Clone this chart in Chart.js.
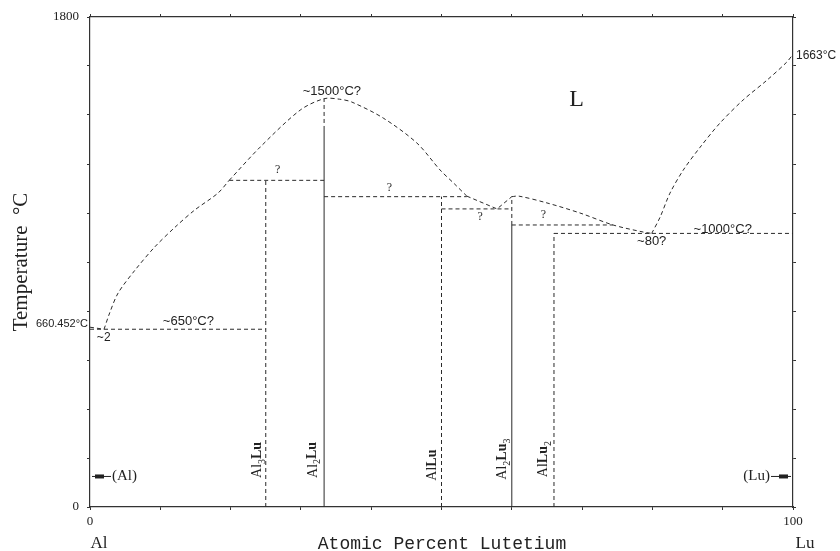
<!DOCTYPE html>
<html>
<head>
<meta charset="utf-8">
<script src="https://cdn.jsdelivr.net/npm/chart.js@4.4.1/dist/chart.umd.min.js"></script>
<style>
html,body{margin:0;padding:0;background:#fff;}
#wrap{width:840px;height:551px;}
</style>
</head>
<body>
<div id="wrap"><canvas id="c" width="840" height="551"></canvas></div>
<script>
// ---- Data (x = at.% Lu, T = °C) ----
const liqAlX = [0, 2];
const liqAlT = [660.452, 653];
const liq1X = [2, 2.8, 4.0, 6.4, 9.2, 12.1, 14.9, 18.2, 19.8];
const liq1T = [653, 713, 786, 870, 955, 1028, 1091, 1153, 1200];
const liq2X = [19.8, 24.2, 29.9, 33.3, 35.5, 37.2, 41.7, 46.5, 49.8, 51.8, 53.6];
const liq2T = [1200, 1322, 1458, 1500, 1498, 1488, 1429, 1337, 1238, 1188, 1142];
const liq3X = [53.6, 57.9, 60];
const liq3T = [1142, 1095, 1140];
const liq4X = [60, 61, 65, 69.7, 74.4, 78.7, 79.9];
const liq4T = [1140, 1142, 1117, 1080, 1036, 1010, 1005];
const liq5X = [79.9, 81.1, 82.5, 84.4, 86.8, 89.6, 92.9, 96.3, 99.1, 100];
const liq5T = [1005, 1065, 1153, 1238, 1322, 1410, 1495, 1568, 1634, 1663];

// invariant (horizontal) lines
const tieStartX = [0, 19.8, 33.3, 50, 60, 66];
const tieEndX   = [25, 33.3, 53.6, 60, 74.4, 100];
const tieT      = [653, 1200, 1140, 1095, 1036, 1005];

// intermediate phases (vertical lines)
const phaseNames = ['Al_3Lu', 'Al_2Lu', 'AlLu', 'Al_2Lu_3', 'AlLu_2'];
const phaseX     = [25, 33.3, 50, 60, 66];
const phaseTopT  = [1200, 1500, 1140, 1140, 1005];
const phaseSolidT = [0, 1385, 0, 1036, 0];

// axis ticks
const xTickLabels = [0, 100];
const yTickLabels = [0, 1800];

// ---- annotation layout (positions in data units) ----
const SERIF = '"Liberation Serif", "DejaVu Serif", serif';
const SANS = '"Liberation Sans", Arial, sans-serif';
const notes = [
  {t:'660.452°C', x:0, T:672, dx:-2, align:'right', size:11, f:SANS},
  {t:'~2', x:1.95, T:621, size:12, f:SANS},
  {t:'~650°C?', x:14.0, T:680, size:13, f:SANS},
  {t:'?', x:26.7, T:1238, size:12, f:SERIF},
  {t:'~1500°C?', x:34.4, T:1528, size:13, f:SANS},
  {t:'L', x:69.2, T:1495, size:24, f:SERIF},
  {t:'?', x:42.6, T:1172, size:12, f:SERIF},
  {t:'?', x:55.5, T:1065, size:12, f:SERIF},
  {t:'?', x:64.5, T:1073, size:12, f:SERIF},
  {t:'~80?', x:79.9, T:977, size:13, f:SANS},
  {t:'~1000°C?', x:90.0, T:1021, size:13, f:SANS},
  {t:'1663°C', x:100, T:1657, dx:3, align:'left', size:12, f:SANS}
];
const phaseLabelX = [23.8, 31.7, 48.7, 58.7, 64.5];
const phaseLabelT = [173, 173, 154, 176, 176];

const LINE = '#2a2a2a';
function seg(xs, ts, dashed, tension) {
  return {
    data: xs.map((x, i) => ({x: x, y: ts[i]})),
    showLine: true, borderColor: LINE, borderWidth: 1,
    borderDash: dashed ? [4, 3] : [], pointRadius: 0, tension: tension || 0,
    fill: false
  };
}

const datasets = [];
datasets.push(seg(liqAlX, liqAlT, true, 0));
datasets.push(seg(liq1X, liq1T, true, 0.3));
datasets.push(seg(liq2X, liq2T, true, 0.3));
datasets.push(seg(liq3X, liq3T, true, 0));
datasets.push(seg(liq4X, liq4T, true, 0.3));
datasets.push(seg(liq5X, liq5T, true, 0.3));
tieT.forEach((t, i) => datasets.push(seg([tieStartX[i], tieEndX[i]], [t, t], true, 0)));
phaseX.forEach((x, i) => {
  if (phaseSolidT[i] > 0) {
    datasets.push(seg([x, x], [0, phaseSolidT[i]], false, 0));
    datasets.push(seg([x, x], [phaseSolidT[i], phaseTopT[i]], true, 0));
  } else {
    datasets.push(seg([x, x], [0, phaseTopT[i]], true, 0));
  }
});

function parseRich(name) {
  const parts = [];
  let i = 0;
  while (i < name.length) {
    if (name[i] === '_') { parts.push({t: name[i+1], sub: true}); i += 2; continue; }
    if (name.substr(i, 2) === 'Lu') { parts.push({t: 'Lu', bold: true}); i += 2; continue; }
    parts.push({t: name[i]}); i++;
  }
  return parts;
}

const annot = {
  id: 'annot',
  afterDraw(chart) {
    const ctx = chart.ctx;
    const sx = chart.scales.x, sy = chart.scales.y;
    const X = v => sx.getPixelForValue(v), Y = v => sy.getPixelForValue(v);
    ctx.save();
    ctx.fillStyle = '#222';
    ctx.textBaseline = 'middle';
    notes.forEach(n => {
      ctx.font = n.size + 'px ' + n.f;
      ctx.textAlign = n.align || 'center';
      ctx.fillText(n.t, X(n.x) + (n.dx || 0), Y(n.T));
    });
    phaseNames.forEach((nm, i) => {
      const parts = parseRich(nm);
      const size = 14;
      const fontOf = p => (p.bold ? 'bold ' : '') + (p.sub ? Math.round(size * 0.72) : size) + 'px ' + SERIF;
      let total = 0;
      parts.forEach(p => { ctx.font = fontOf(p); p.w = ctx.measureText(p.t).width; total += p.w; });
      ctx.save();
      ctx.translate(X(phaseLabelX[i]), Y(phaseLabelT[i]));
      ctx.rotate(-Math.PI / 2);
      ctx.textAlign = 'left';
      let x = -total / 2;
      parts.forEach(p => {
        ctx.font = fontOf(p);
        ctx.fillText(p.t, x, p.sub ? size * 0.35 : 0);
        x += p.w;
      });
      ctx.restore();
    });
    const ya = Y(114);
    ctx.strokeStyle = '#222'; ctx.lineWidth = 1;
    ctx.font = '15px ' + SERIF;
    ctx.textAlign = 'left';
    ctx.fillText('(Al)', X(0) + 22, ya);
    ctx.beginPath(); ctx.moveTo(X(0) + 2, ya + 0.5); ctx.lineTo(X(0) + 21, ya + 0.5); ctx.stroke();
    ctx.fillRect(X(0) + 5, ya - 1.5, 9, 4);
    ctx.textAlign = 'right';
    ctx.fillText('(Lu)', X(100) - 23, ya);
    ctx.beginPath(); ctx.moveTo(X(100) - 22, ya + 0.5); ctx.lineTo(X(100) - 2, ya + 0.5); ctx.stroke();
    ctx.fillRect(X(100) - 14, ya - 1.5, 9, 4);
    ctx.textAlign = 'center';
    ctx.font = '17px ' + SERIF;
    ctx.fillText('Al', X(0) + 9, 544);
    ctx.fillText('Lu', X(100) + 12, 544);
    ctx.font = '18px "Liberation Mono", "DejaVu Sans Mono", monospace';
    ctx.fillText('Atomic Percent Lutetium', 442, 544);
    ctx.save();
    ctx.translate(21, 262);
    ctx.rotate(-Math.PI / 2);
    ctx.font = '21px ' + SERIF;
    ctx.fillText('Temperature  °C', 0, 0);
    ctx.restore();
    ctx.restore();
  }
};

const tickFont = {family: SERIF, size: 13};
const gridCommon = {drawOnChartArea: false, drawTicks: true, tickLength: 3, color: '#333', lineWidth: 1};
const borderCommon = {display: true, color: '#333', width: 1.2};

new Chart(document.getElementById('c'), {
  type: 'scatter',
  data: {datasets: datasets},
  options: {
    responsive: false, animation: false,
    layout: {padding: 0},
    plugins: {legend: {display: false}, tooltip: {enabled: false}},
    scales: {
      x: {
        type: 'linear', position: 'bottom', min: 0, max: 100,
        ticks: {stepSize: 10, autoSkip: false, maxRotation: 0, padding: 4, color: '#222', font: tickFont,
          callback: v => xTickLabels.includes(v) ? String(v) : ''},
        grid: gridCommon, border: borderCommon,
        afterFit: s => { s.height = 44; }
      },
      xTop: {
        type: 'linear', position: 'top', min: 0, max: 100,
        ticks: {stepSize: 10, autoSkip: false, callback: () => '', padding: 0},
        grid: gridCommon, border: borderCommon,
        afterFit: s => { s.height = 17; }
      },
      y: {
        type: 'linear', position: 'left', min: 0, max: 1800,
        ticks: {stepSize: 180, autoSkip: false, padding: 8, color: '#222', font: tickFont,
          callback: v => yTickLabels.includes(v) ? String(v) : ''},
        grid: gridCommon, border: borderCommon,
        afterFit: s => { s.width = 90; }
      },
      yRight: {
        type: 'linear', position: 'right', min: 0, max: 1800,
        ticks: {stepSize: 180, autoSkip: false, callback: () => '', padding: 0},
        grid: gridCommon, border: borderCommon,
        afterFit: s => { s.width = 47; }
      }
    }
  },
  plugins: [annot]
});
</script>
</body>
</html>
